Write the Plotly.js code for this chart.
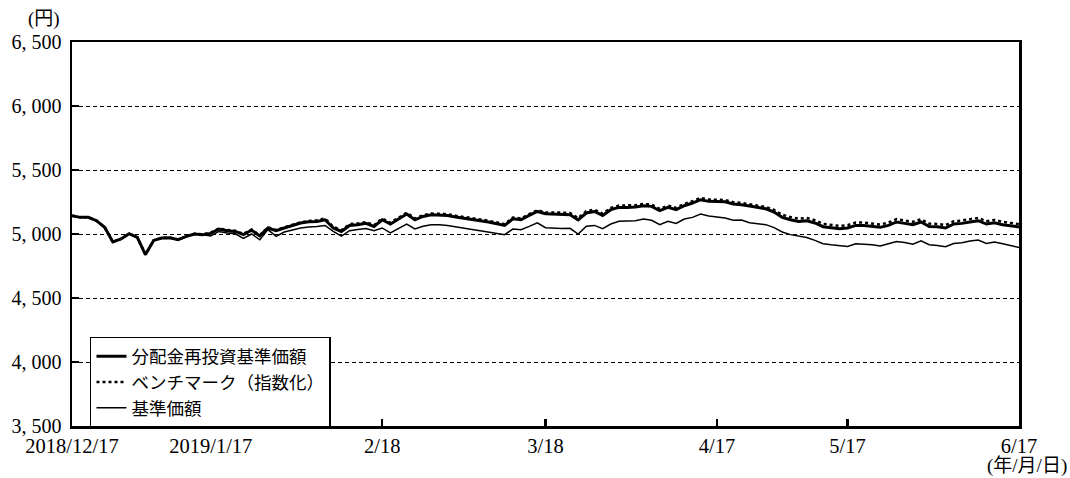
<!DOCTYPE html>
<html>
<head>
<meta charset="utf-8">
<script src="https://cdn.plot.ly/plotly-3.0.1.min.js"></script>
<style>
html,body{margin:0;padding:0;background:#fff;}
#chart{width:1070px;height:478px;}
</style>
</head>
<body>
<div id="chart"></div>
<script>
// Business days (categories)
const dates = [
"2018-12-17","2018-12-18","2018-12-19","2018-12-20","2018-12-21","2018-12-25","2018-12-26","2018-12-27","2018-12-28",
"2019-01-04","2019-01-07","2019-01-08","2019-01-09","2019-01-10","2019-01-11","2019-01-15","2019-01-16","2019-01-17",
"2019-01-18","2019-01-21","2019-01-22","2019-01-23","2019-01-24","2019-01-25","2019-01-28","2019-01-29","2019-01-30","2019-01-31",
"2019-02-01","2019-02-04","2019-02-05","2019-02-06","2019-02-07","2019-02-08","2019-02-12","2019-02-13","2019-02-14","2019-02-15","2019-02-18",
"2019-02-19","2019-02-20","2019-02-21","2019-02-22","2019-02-25","2019-02-26","2019-02-27","2019-02-28",
"2019-03-01","2019-03-04","2019-03-05","2019-03-06","2019-03-07","2019-03-08","2019-03-11","2019-03-12","2019-03-13","2019-03-14","2019-03-15","2019-03-18",
"2019-03-19","2019-03-20","2019-03-22","2019-03-25","2019-03-26","2019-03-27","2019-03-28","2019-03-29",
"2019-04-01","2019-04-02","2019-04-03","2019-04-04","2019-04-05","2019-04-08","2019-04-09","2019-04-10","2019-04-11","2019-04-12","2019-04-15","2019-04-16","2019-04-17",
"2019-04-18","2019-04-19","2019-04-22","2019-04-23","2019-04-24","2019-04-25","2019-04-26",
"2019-05-07","2019-05-08","2019-05-09","2019-05-10","2019-05-13","2019-05-14","2019-05-15","2019-05-16","2019-05-17",
"2019-05-20","2019-05-21","2019-05-22","2019-05-23","2019-05-24","2019-05-27","2019-05-28","2019-05-29","2019-05-30","2019-05-31",
"2019-06-03","2019-06-04","2019-06-05","2019-06-06","2019-06-07","2019-06-10","2019-06-11","2019-06-12","2019-06-13","2019-06-14","2019-06-17"
];

// 分配金再投資基準価額
const reinvested = [
5143,5130,5130,5104,5052,4938,4961,5002,4973,4839,
4950,4969,4971,4956,4981,5000,4995,5005,5039,5026,
5020,4995,5030,4985,5047,5026,5047,5067,5086,5096,
5098,5111,5047,5020,5067,5073,5083,5059,5111,5078,
5119,5156,5111,5137,5150,5150,5145,5133,5125,5114,
5104,5094,5083,5067,5119,5111,5145,5176,5158,5156,
5153,5150,5111,5164,5176,5145,5190,5208,5208,5211,
5221,5216,5182,5208,5190,5221,5242,5268,5255,5255,
5252,5234,5229,5218,5208,5197,5172,5130,5111,5098,
5104,5086,5057,5047,5041,5047,5067,5067,5062,5052,
5067,5094,5083,5073,5094,5059,5057,5047,5078,5083,
5094,5104,5078,5088,5073,5062,5055
];

// ベンチマーク（指数化）
const benchmark = [
5143,5130,5130,5104,5052,4938,4961,5002,4973,4839,
4950,4969,4971,4956,4981,5002,4998,5010,5044,5031,
5025,5000,5035,4990,5052,5031,5052,5072,5091,5102,
5108,5121,5057,5030,5077,5083,5093,5069,5121,5088,
5129,5166,5121,5147,5160,5160,5155,5143,5135,5124,
5114,5104,5093,5077,5129,5121,5155,5186,5168,5170,
5167,5164,5125,5178,5190,5159,5204,5222,5222,5225,
5235,5230,5196,5222,5204,5235,5256,5282,5269,5269,
5266,5248,5243,5232,5222,5211,5188,5150,5132,5120,
5126,5108,5079,5069,5063,5069,5089,5089,5084,5074,
5089,5116,5105,5095,5116,5081,5079,5069,5100,5105,
5116,5126,5100,5110,5095,5084,5077
];

// 基準価額
const nav = [
5143,5130,5130,5104,5052,4938,4961,5002,4973,4839,
4950,4969,4971,4956,4981,5000,4995,4985,5020,5008,
5002,4965,5000,4955,5034,4981,5015,5034,5047,5055,
5058,5067,5020,4984,5026,5036,5042,5026,5047,5008,
5042,5078,5039,5060,5073,5073,5067,5055,5047,5036,
5026,5016,5005,4995,5039,5034,5060,5088,5049,5044,
5042,5044,5000,5060,5067,5042,5078,5099,5104,5104,
5117,5107,5073,5099,5083,5117,5130,5156,5140,5130,
5125,5107,5109,5088,5078,5073,5050,5016,4995,4981,
4973,4950,4924,4916,4911,4903,4924,4921,4916,4906,
4921,4942,4934,4921,4947,4916,4911,4900,4926,4932,
4945,4953,4926,4937,4924,4911,4895
];

const seriesNames = ['分配金再投資基準価額', 'ベンチマーク（指数化）', '基準価額'];
const xTickVals = ["2018-12-17","2019-01-17","2019-02-18","2019-03-18","2019-04-17","2019-05-17","2019-06-17"];
const xTickText = ["2018/12/17","2019/1/17","2/18","3/18","4/17","5/17","6/17"];
const yTickVals = [3500,4000,4500,5000,5500,6000,6500];
const yTickText = ["3, 500","4, 000","4, 500","5, 000","5, 500","6, 000","6, 500"];

const serif = "'Liberation Serif', 'DejaVu Serif', 'Noto Sans CJK JP', serif";
const cjk = "'Noto Sans CJK JP', sans-serif";

const traces = [
  {x: dates, y: reinvested, type: 'scatter', mode: 'lines', name: seriesNames[0],
   line: {color: '#000', width: 3}},
  {x: dates, y: benchmark, type: 'scatter', mode: 'lines', name: seriesNames[1],
   line: {color: '#000', width: 2.5, dash: 'dot'}},
  {x: dates, y: nav, type: 'scatter', mode: 'lines', name: seriesNames[2],
   line: {color: '#000', width: 1.5}}
];

const layout = {
  width: 1070, height: 478,
  margin: {l: 72, r: 51, t: 42, b: 52},
  paper_bgcolor: '#fff', plot_bgcolor: '#fff',
  showlegend: true,
  legend: {x: 0.019, y: 0.232, xanchor: 'left', yanchor: 'top',
    bordercolor: '#000', borderwidth: 1.5, bgcolor: '#fff',
    font: {family: cjk, size: 17.5, color: '#000'}, tracegroupgap: 0, itemwidth: 30},
  xaxis: {type: 'category', range: [0, dates.length - 1],
    tickmode: 'array', tickvals: xTickVals, ticktext: xTickText,
    ticks: 'inside', ticklen: 7, tickwidth: 2.5, tickcolor: '#000',
    showline: true, mirror: true, linecolor: '#000', linewidth: 2.5,
    showgrid: false, zeroline: false,
    tickfont: {family: serif, size: 20.5, color: '#000'}},
  yaxis: {range: [3500, 6500], tickmode: 'array', tickvals: yTickVals, ticktext: yTickText,
    ticks: 'inside', ticklen: 7, tickwidth: 2, tickcolor: '#000',
    showline: true, mirror: true, linecolor: '#000', linewidth: 2.5,
    showgrid: true, gridcolor: '#000', gridwidth: 1, griddash: '4px,3px',
    zeroline: false, ticklabelstandoff: 4,
    tickfont: {family: serif, size: 20, color: '#000'}},
  annotations: [
    {text: '(円)', xref: 'paper', yref: 'paper', x: -0.03, y: 1.06,
     xanchor: 'center', yanchor: 'middle', showarrow: false,
     font: {family: serif, size: 19, color: '#000'}},
    {text: '(年/月/日)', xref: 'paper', yref: 'paper', x: 1.0517, y: -0.1354,
     xanchor: 'right', yanchor: 'bottom', showarrow: false, borderpad: 0,
     font: {family: serif, size: 19, color: '#000'}}
  ]
};

Plotly.newPlot('chart', traces, layout, {displayModeBar: false, staticPlot: true});
</script>
</body>
</html>
